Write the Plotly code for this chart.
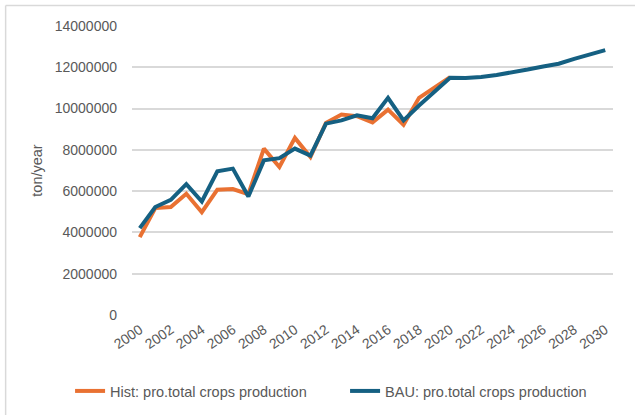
import plotly.graph_objects as go

years_hist = list(range(2000, 2021))
years_bau = list(range(2000, 2031))

hist_values = [3770000, 5180000, 5230000, 5870000, 4980000, 6070000, 6100000, 5850000,
               8060000, 7170000, 8580000, 7650000, 9300000, 9710000, 9630000, 9330000,
               9950000, 9220000, 10520000, 11000000, 11520000]
bau_values = [4210000, 5230000, 5580000, 6340000, 5500000, 6960000, 7090000, 5740000,
              7490000, 7600000, 8060000, 7720000, 9270000, 9430000, 9670000, 9530000,
              10520000, 9430000, 10150000, 10840000, 11490000, 11480000, 11530000,
              11630000, 11750000, 11890000, 12040000, 12170000, 12410000, 12620000, 12830000]

x_ticks = list(range(2000, 2031, 2))
y_ticks = list(range(0, 14000001, 2000000))

ORANGE = "#E97132"
BLUE = "#156082"
GRAY_TEXT = "#595959"
GRID = "#D9D9D9"
FONT = "Liberation Sans, Arial, sans-serif"

fig = go.Figure()
fig.add_trace(go.Scatter(x=years_hist, y=hist_values, mode="lines",
                         name="Hist: pro.total crops production",
                         line=dict(color=ORANGE, width=4)))
fig.add_trace(go.Scatter(x=years_bau, y=bau_values, mode="lines",
                         name="BAU: pro.total crops production",
                         line=dict(color=BLUE, width=4)))

L, R, T, B = 132, 21.5, 26, 100
W, H = 635, 415
pw = W - L - R
ph = H - T - B

def px2paper_x(px):
    return (px - L) / pw

def px2paper_y(py):
    return (H - B - py) / ph

fig.update_layout(
    width=W, height=H,
    margin=dict(l=L, r=R, t=T, b=B, autoexpand=False),
    paper_bgcolor="white", plot_bgcolor="white",
    font=dict(family=FONT, color=GRAY_TEXT, size=14),
    showlegend=True,
    legend=dict(orientation="h", x=px2paper_x(70), xanchor="left",
                y=px2paper_y(391), yanchor="middle",
                font=dict(size=14.5, color=GRAY_TEXT),
                entrywidth=230, entrywidthmode="pixels",
                bgcolor="rgba(0,0,0,0)", traceorder="normal"),
    xaxis=dict(range=[1999.5, 2030.5], tickmode="array", tickvals=x_ticks,
               ticktext=[str(v) for v in x_ticks], tickangle=-35,
               showgrid=False, zeroline=False, showline=False,
               ticks="", ticklabelstandoff=3,
               tickfont=dict(size=14, color=GRAY_TEXT),
               automargin=False, fixedrange=True),
    yaxis=dict(range=[0, 14000000], tickmode="array", tickvals=y_ticks,
               ticktext=[str(v) for v in y_ticks],
               showgrid=True, gridcolor=GRID, gridwidth=1.5,
               zeroline=False, showline=False, ticks="",
               ticklabelstandoff=14,
               tickfont=dict(size=14, color=GRAY_TEXT),
               title=dict(text="ton/year", font=dict(size=14.5, color=GRAY_TEXT), standoff=8),
               automargin=False, fixedrange=True),
)

# chart-area border (left and top edges visible)
fig.add_shape(type="line", xref="paper", yref="paper",
              x0=px2paper_x(5.5), x1=px2paper_x(700), y0=px2paper_y(5.5), y1=px2paper_y(5.5),
              line=dict(color=GRID, width=1.5))
fig.add_shape(type="line", xref="paper", yref="paper",
              x0=px2paper_x(5.5), x1=px2paper_x(5.5), y0=px2paper_y(5.5), y1=px2paper_y(480),
              line=dict(color=GRID, width=1.5))

fig.write_html("out.html")
